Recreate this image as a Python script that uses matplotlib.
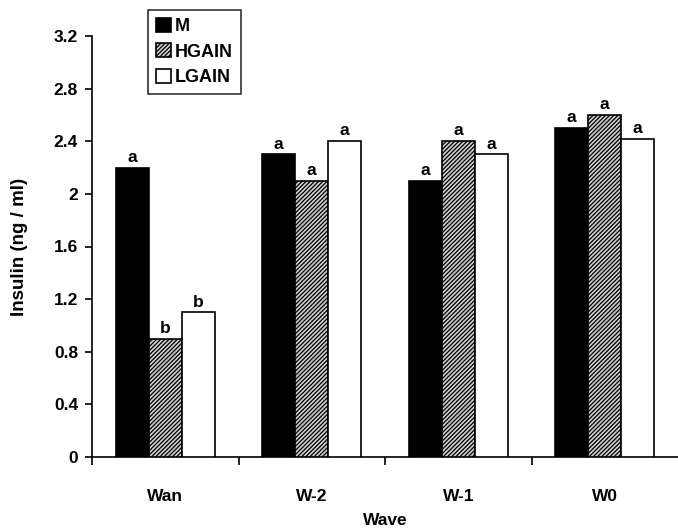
import numpy as np
import matplotlib.pyplot as plt

# --- DATA ---
waves = ['Wan', 'W-2', 'W-1', 'W0']
groups = ['M', 'HGAIN', 'LGAIN']
m_vals = [2.2, 2.3, 2.1, 2.5]
hgain_vals = [0.9, 2.1, 2.4, 2.6]
lgain_vals = [1.1, 2.4, 2.3, 2.42]
m_letters = ['a', 'a', 'a', 'a']
hgain_letters = ['b', 'a', 'a', 'a']
lgain_letters = ['b', 'a', 'a', 'a']
y_ticks = [0, 0.4, 0.8, 1.2, 1.6, 2, 2.4, 2.8, 3.2]

plt.rcParams['font.family'] = ['Liberation Sans', 'DejaVu Sans']
plt.rcParams['font.weight'] = 'bold'
plt.rcParams['hatch.linewidth'] = 0.9

fig = plt.figure(figsize=(6.78, 5.29), dpi=100)
ax = fig.add_axes([92 / 678, 1 - 457 / 529, 1 - 92 / 678, (457 - 36) / 529])

x = np.arange(len(waves))
width = 0.225

styles = [
    dict(facecolor='black', hatch=None),
    dict(facecolor='#cfcfcf', hatch='////////'),
    dict(facecolor='white', hatch=None),
]
series = [m_vals, hgain_vals, lgain_vals]
letters = [m_letters, hgain_letters, lgain_letters]

for i, (vals, lets, st, name) in enumerate(zip(series, letters, styles, groups)):
    pos = x + (i - 1) * width
    bars = ax.bar(pos, vals, width, color=st['facecolor'], hatch=st['hatch'],
                  edgecolor='black', linewidth=1.2, label=name, zorder=3)
    for b, lt in zip(bars, lets):
        ax.annotate(lt, (b.get_x() + b.get_width() / 2, b.get_height()),
                    xytext=(0, 2), textcoords='offset points',
                    ha='center', va='bottom', fontsize=12.5, fontweight='bold')

ax.set_xlim(-0.5, 3.5)
ax.set_ylim(0, 3.2)
ax.set_yticks(y_ticks)
ax.set_yticklabels(['0', '0.4', '0.8', '1.2', '1.6', '2', '2.4', '2.8', '3.2'])

# ticks at the category boundaries, labels in the middle
ax.set_xticks([-0.5, 0.5, 1.5, 2.5])
ax.set_xticklabels([])
ax.set_xticks(x, minor=True)
ax.set_xticklabels(waves, minor=True, fontsize=12.5, fontweight='bold')
ax.tick_params(axis='x', which='major', direction='out', length=6, width=1.2)
ax.tick_params(axis='x', which='minor', length=0, pad=23)
ax.tick_params(axis='y', direction='out', length=5, width=1.2, labelsize=12.5, pad=5)

for side in ['top', 'right']:
    ax.spines[side].set_visible(False)
for side in ['left', 'bottom']:
    ax.spines[side].set_linewidth(1.2)

ax.set_ylabel('Insulin (ng / ml)', fontsize=13.5, fontweight='bold')
ax.yaxis.set_label_coords(-0.11, 0.5)
ax.set_xlabel('Wave', fontsize=12.5, fontweight='bold')
ax.xaxis.set_label_coords(0.5, -0.132)

leg = fig.legend(loc='upper left', bbox_to_anchor=(148 / 678, 1 - 10 / 529),
                 frameon=True, fancybox=False, handlelength=0.8,
                 handleheight=0.8, handletextpad=0.25, labelspacing=0.45,
                 borderpad=0.45, borderaxespad=0,
                 prop={'weight': 'bold', 'size': 13})
leg.get_frame().set_edgecolor('black')
leg.get_frame().set_linewidth(1.2)

fig.savefig('out.png', dpi=100)
